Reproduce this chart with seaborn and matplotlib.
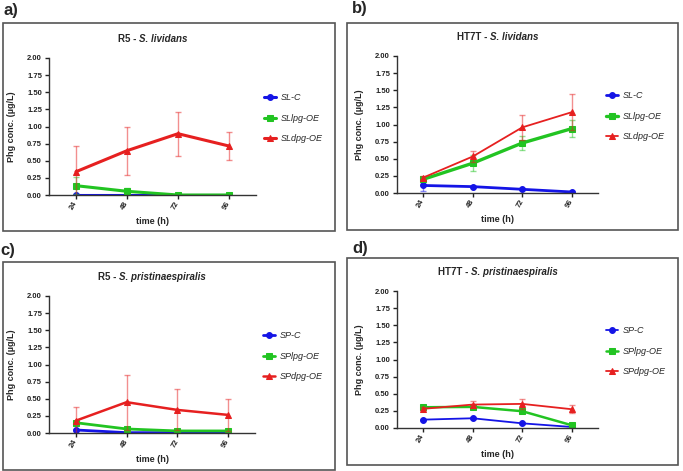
import numpy as np
import pandas as pd
import seaborn as sns
import matplotlib
matplotlib.use("Agg")
from matplotlib import pyplot as plt
from matplotlib.patches import Rectangle

time_h = [24, 48, 72, 96]
series_style = {"C": ("#1414e6", "o"), "lpg": ("#22c422", "s"), "dpg": ("#e62020", "^")}

# a) R5 - S. lividans
a_names = ["SL-C", "SLlpg-OE", "SLdpg-OE"]
a_ctrl = [0.005, 0.005, 0.005, 0.005]
a_ctrl_err = [0.0, 0.0, 0.0, 0.0]
a_lpg = [0.136, 0.054, 0.0, 0.0]
a_lpg_err = [0.12, 0.05, 0.0, 0.0]
a_dpg = [0.34, 0.647, 0.895, 0.715]
a_dpg_err = [0.375, 0.35, 0.32, 0.21]

# b) HT7T - S. lividans
b_names = ["SL-C", "SLlpg-OE", "SLdpg-OE"]
b_ctrl = [0.11, 0.093, 0.054, 0.015]
b_ctrl_err = [0.08, 0.01, 0.01, 0.01]
b_lpg = [0.20, 0.435, 0.73, 0.94]
b_lpg_err = [0.03, 0.12, 0.095, 0.125]
b_dpg = [0.225, 0.533, 0.958, 1.18]
b_dpg_err = [0.02, 0.085, 0.18, 0.26]

# c) R5 - S. pristinaespiralis
c_names = ["SP-C", "SPlpg-OE", "SPdpg-OE"]
c_ctrl = [0.044, 0.005, 0.005, 0.005]
c_ctrl_err = [0.02, 0.0, 0.0, 0.0]
c_lpg = [0.15, 0.059, 0.03, 0.03]
c_lpg_err = [0.02, 0.01, 0.0, 0.0]
c_dpg = [0.18, 0.45, 0.337, 0.264]
c_dpg_err = [0.2, 0.40, 0.30, 0.23]

# d) HT7T - S. pristinaespiralis
d_names = ["SP-C", "SPlpg-OE", "SPdpg-OE"]
d_ctrl = [0.122, 0.142, 0.068, 0.015]
d_ctrl_err = [0.01, 0.01, 0.01, 0.01]
d_lpg = [0.303, 0.308, 0.245, 0.04]
d_lpg_err = [0.02, 0.02, 0.02, 0.01]
d_dpg = [0.28, 0.342, 0.352, 0.274]
d_dpg_err = [0.02, 0.05, 0.075, 0.06]

sns.set_style("ticks")
plt.rcParams["font.family"] = ["Liberation Sans", "DejaVu Sans"]

W, H = 683, 471
fig = plt.figure(figsize=(W / 100, H / 100), dpi=100)


def px_axes(left, top, right, bottom):
    return fig.add_axes([left / W, 1 - bottom / H, (right - left) / W, (bottom - top) / H])


panels = [
    dict(letter="a)", lpos=(3, 10), box=(3, 23, 335, 231), ax=(49, 58, 256, 195),
         t1="R5 - ", t2="S. lividans", names=a_names,
         data=[(a_ctrl, a_ctrl_err), (a_lpg, a_lpg_err), (a_dpg, a_dpg_err)], lw=[2.2, 2.2, 2.2]),
    dict(letter="b)", lpos=(352, 9), box=(347, 23, 678, 230), ax=(397, 56, 598, 193),
         t1="HT7T - ", t2="S. lividans", names=b_names,
         data=[(b_ctrl, b_ctrl_err), (b_lpg, b_lpg_err), (b_dpg, b_dpg_err)], lw=[2.0, 2.4, 1.3]),
    dict(letter="c)", lpos=(0, 250), box=(3, 262, 335, 470), ax=(49, 296, 255, 433),
         t1="R5 - ", t2="S. pristinaespiralis", names=c_names,
         data=[(c_ctrl, c_ctrl_err), (c_lpg, c_lpg_err), (c_dpg, c_dpg_err)], lw=[2.0, 2.0, 1.8]),
    dict(letter="d)", lpos=(352, 248), box=(347, 258, 678, 465), ax=(397, 291, 598, 428),
         t1="HT7T - ", t2="S. pristinaespiralis", names=d_names,
         data=[(d_ctrl, d_ctrl_err), (d_lpg, d_lpg_err), (d_dpg, d_dpg_err)], lw=[1.3, 1.8, 1.3]),
]

for p in panels:
    # frame and panel letter
    x0, y0, x1, y1 = p["box"]
    fig.patches.append(Rectangle((x0 / W, 1 - y1 / H), (x1 - x0) / W, (y1 - y0) / H,
                                 transform=fig.transFigure, fill=False, ec="#555555", lw=1.2))
    fig.text(p["lpos"][0] / W, 1 - p["lpos"][1] / H, p["letter"], fontsize=12,
             fontweight="bold", va="center", ha="left")

    ax = px_axes(*p["ax"])
    for (vals, err), name, key, lw in zip(p["data"], p["names"], ["C", "lpg", "dpg"], p["lw"]):
        col, mk = series_style[key]
        ax.errorbar(time_h, vals, yerr=err, fmt="none", ecolor=col, alpha=0.5,
                    elinewidth=1, capsize=2.5, capthick=1)
        sns.lineplot(x=time_h, y=vals, ax=ax, color=col, marker=mk, markersize=4.2,
                     markeredgecolor=col, linewidth=lw, label=name, errorbar=None)

    ax.set_ylim(0, 2.0)
    ax.set_xlim(11.3, 108.7)
    ax.set_yticks(np.arange(0, 2.01, 0.25))
    ax.set_yticklabels([f"{v:.2f}" for v in np.arange(0, 2.01, 0.25)], fontsize=5.5, fontweight="bold")
    ax.set_xticks(time_h)
    ax.set_xticklabels([str(t) for t in time_h], fontsize=5.5, fontweight="bold",
                       rotation=60, ha="right", va="center", rotation_mode="anchor")
    ax.tick_params(direction="out", length=3, width=1, pad=2, colors="#222222")
    for s in ["left", "bottom"]:
        ax.spines[s].set_linewidth(1.0)
        ax.spines[s].set_color("#333333")
    sns.despine(ax=ax)
    ax.set_xlabel("time (h)", fontsize=6.5, fontweight="bold", labelpad=4)
    ax.set_ylabel("Phg conc. (µg/L)", fontsize=6.5, fontweight="bold", labelpad=8)

    # title: plain part + italic species name
    t = ax.text(0.5, 1.0 + 19 / (p["ax"][3] - p["ax"][1]), p["t1"], transform=ax.transAxes,
                fontsize=7, fontweight="bold", ha="right", va="center")
    t2 = ax.annotate(p["t2"], xy=(1, 0), xycoords=t, fontsize=7, fontweight="bold",
                     style="italic", ha="left", va="bottom")
    p["titles"] = (t, t2, ax)

    ax.legend(loc="center left", bbox_to_anchor=(1.0, 0.56), frameon=False,
              prop=dict(style="italic", size=6.5), handlelength=1.3, handletextpad=0.5,
              labelspacing=1.25)

# recenter the combined two-part titles over their axes
fig.canvas.draw()
r = fig.canvas.get_renderer()
for p in panels:
    t, t2, ax = p["titles"]
    b1 = t.get_window_extent(r)
    b2 = t2.get_window_extent(r)
    total = b2.x1 - b1.x0
    axb = ax.get_window_extent(r)
    cx = (axb.x0 + axb.x1) / 2
    shift = (cx - total / 2) - b1.x0
    x_ax, y_ax = t.get_position()
    t.set_position((x_ax + shift / axb.width, y_ax))

fig.savefig("out.png", dpi=100)
